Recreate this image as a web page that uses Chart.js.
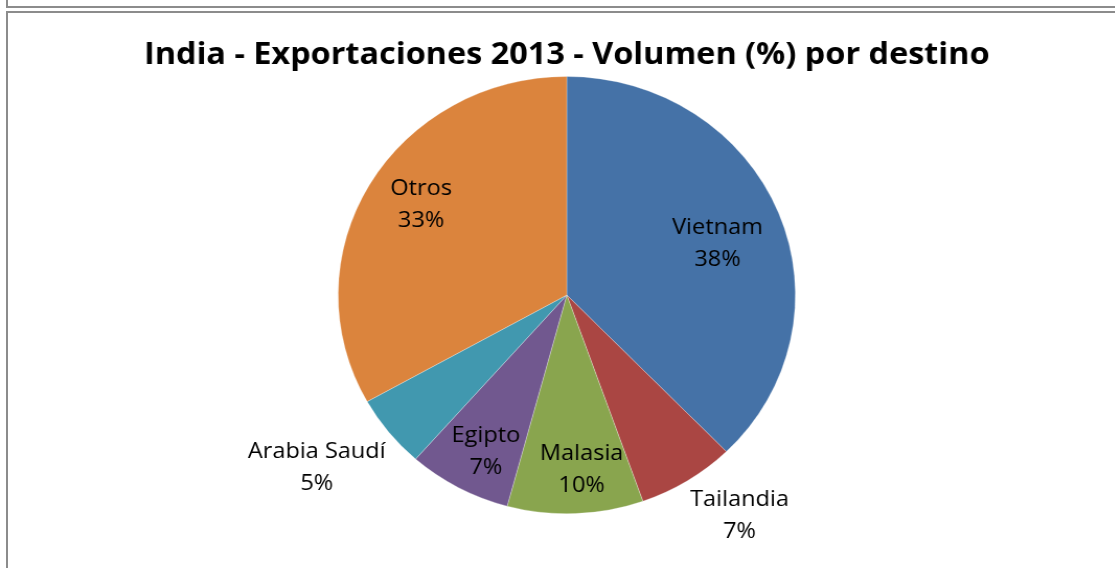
<!DOCTYPE html>
<html>
<head>
<meta charset="utf-8">
<script src="https://cdn.jsdelivr.net/npm/chart.js@4/dist/chart.umd.min.js"></script>
<style>
  html, body { margin: 0; padding: 0; background: #fff; }
  #page { position: relative; width: 1115px; height: 568px; overflow: hidden; background: #fff; }
  .ln { position: absolute; background: #8c8c8c; }
  #wrap { position: absolute; left: 0; top: 0; width: 1066px; height: 568px; transform: scaleX(1.0457); transform-origin: 0 0; }
</style>
</head>
<body>
<div id="page">
  <div class="ln" style="left:6px; top:0; width:2px; height:8px;"></div>
  <div class="ln" style="left:6px; top:6px; width:1109px; height:2px;"></div>
  <div class="ln" style="left:6px; top:11px; width:1109px; height:2px;"></div>
  <div class="ln" style="left:6px; top:11px; width:2px; height:557px;"></div>
  <div id="wrap"><canvas id="c" width="1066" height="568"></canvas></div>
</div>
<script>
const titleText = 'India - Exportaciones 2013 - Volumen (%) por destino';
const categories = ['Vietnam', 'Tailandia', 'Malasia', 'Egipto', 'Arabia Saudí', 'Otros'];
const shares = [37.7, 6.9, 9.6, 7.3, 5.4, 33.1];
const sliceColors = ['#4572A7', '#AA4643', '#89A54E', '#71588F', '#4198AF', '#DB843D'];

// label placement: radial factor and angle shift (degrees) relative to slice middle
const labelRadius = [0.70, 1.26, 0.80, 0.80, 1.35, 0.76];
const labelShift = [2.5, -5, -2.5, -2, 3, 2.6];

const pieLabels = {
  id: 'pieLabels',
  afterDatasetsDraw(chart) {
    const ctx = chart.ctx;
    const meta = chart.getDatasetMeta(0);
    const total = shares.reduce((a, b) => a + b, 0);
    ctx.save();
    ctx.fillStyle = '#000';
    ctx.font = '22.5px "Open Sans"';
    ctx.textAlign = 'center';
    ctx.textBaseline = 'middle';
    meta.data.forEach((arc, i) => {
      const p = arc.getProps(['x', 'y', 'startAngle', 'endAngle', 'outerRadius'], true);
      const mid = (p.startAngle + p.endAngle) / 2 + labelShift[i] * Math.PI / 180;
      const r = p.outerRadius * labelRadius[i];
      const x = p.x + Math.cos(mid) * r;
      const y = p.y + Math.sin(mid) * r;
      const pct = Math.round(shares[i] / total * 100) + '%';
      ctx.fillText(categories[i], x, y - 16);
      ctx.fillText(pct, x, y + 16);
    });
    ctx.restore();
  }
};

new Chart(document.getElementById('c'), {
  type: 'pie',
  data: {
    labels: categories,
    datasets: [{
      data: shares,
      backgroundColor: sliceColors,
      borderColor: 'rgba(255,255,255,0.45)',
      borderWidth: 0.6
    }]
  },
  options: {
    responsive: false,
    animation: false,
    layout: { padding: { left: 18, right: 0, top: 0, bottom: 54 } },
    plugins: {
      legend: { display: false },
      tooltip: { enabled: false },
      title: {
        display: true,
        text: titleText,
        color: '#000',
        font: { family: '"Open Sans"', size: 31, weight: 'bold', lineHeight: 1.2 },
        padding: { top: 37, bottom: 2 }
      }
    }
  },
  plugins: [pieLabels]
});
</script>
</body>
</html>
